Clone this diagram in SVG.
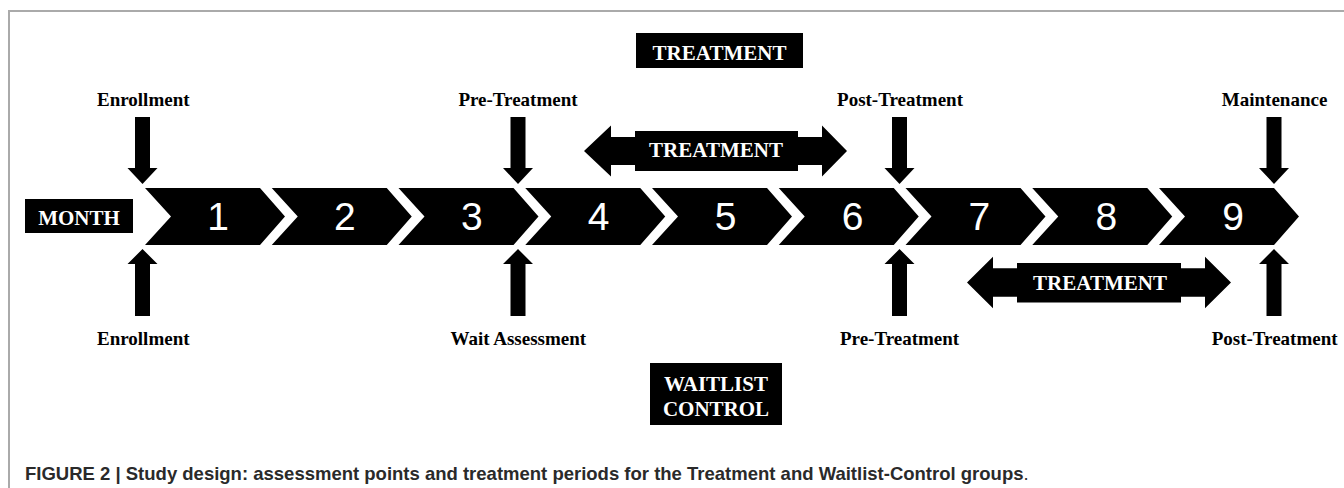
<svg xmlns="http://www.w3.org/2000/svg" width="1344" height="488" viewBox="0 0 1344 488">
<style>
.lbl{font-family:"Liberation Serif","Times New Roman",serif;font-weight:bold;font-size:19px;fill:#000;text-anchor:middle}
.wt{font-family:"Liberation Serif","Times New Roman",serif;font-weight:bold;font-size:21px;fill:#fff;text-anchor:middle}
.num{font-family:"Liberation Sans",Arial,sans-serif;font-size:39px;fill:#fff;text-anchor:middle}
.cap{font-family:"Liberation Sans",Arial,sans-serif;font-size:18.5px;fill:#2a2a2a}
.blk{fill:#000}
</style>
<defs>
<path id="chev" d="M0,188 L115,188 L140,216.5 L115,245 L0,245 L26,216.5 Z"/>
<path id="down" d="M-7.5,117 L7.5,117 L7.5,168 L15,168 L0,184 L-15,168 L-7.5,168 Z"/>
<path id="up" d="M-7.5,316 L7.5,316 L7.5,264 L15,264 L0,249 L-15,264 L-7.5,264 Z"/>
</defs>
<rect width="1344" height="488" fill="#fff"/>
<g id="frame" fill="none" stroke="#aaa" stroke-width="2">
<path d="M9,488 L9,11 L1344,11"/>
</g>
<g id="month">
<rect x="25" y="199" width="108" height="34" class="blk"/>
<text x="79" y="225" class="wt">MONTH</text>
</g>
<g id="timeline">
<g id="m1"><use href="#chev" x="145" class="blk"/><text x="218" y="230" class="num">1</text></g>
<g id="m2"><use href="#chev" x="271.75" class="blk"/><text x="344.9" y="230" class="num">2</text></g>
<g id="m3"><use href="#chev" x="398.5" class="blk"/><text x="471.8" y="230" class="num">3</text></g>
<g id="m4"><use href="#chev" x="525.25" class="blk"/><text x="598.7" y="230" class="num">4</text></g>
<g id="m5"><use href="#chev" x="652" class="blk"/><text x="725.6" y="230" class="num">5</text></g>
<g id="m6"><use href="#chev" x="778.75" class="blk"/><text x="852.5" y="230" class="num">6</text></g>
<g id="m7"><use href="#chev" x="905.5" class="blk"/><text x="979.4" y="230" class="num">7</text></g>
<g id="m8"><use href="#chev" x="1032.25" class="blk"/><text x="1106.3" y="230" class="num">8</text></g>
<g id="m9"><use href="#chev" x="1159" class="blk"/><text x="1233.2" y="230" class="num">9</text></g>
</g>
<g id="treatment-label">
<rect x="636" y="33" width="167" height="35" class="blk"/>
<text x="719.5" y="60" class="wt">TREATMENT</text>
</g>
<g id="waitlist-label">
<rect x="650" y="363" width="132" height="62" class="blk"/>
<text x="716" y="391" class="wt">WAITLIST</text>
<text x="716" y="416" class="wt">CONTROL</text>
</g>
<g id="treatment-period-1">
<path class="blk" d="M584,151 L611,125.5 L611,137 L635,137 L635,131 L798,131 L798,137 L822,137 L822,125.5 L847,151 L822,176.5 L822,165 L798,165 L798,171 L635,171 L635,165 L611,165 L611,176.5 Z"/>
<text x="716" y="157" class="wt">TREATMENT</text>
</g>
<g id="treatment-period-2">
<path class="blk" d="M967,282.5 L993,256.7 L993,268.3 L1017,268.3 L1017,263 L1181,263 L1181,268.3 L1205,268.3 L1205,256.7 L1231,282.5 L1205,308.3 L1205,296.7 L1181,296.7 L1181,302.5 L1017,302.5 L1017,296.7 L993,296.7 L993,308.3 Z"/>
<text x="1100" y="290" class="wt">TREATMENT</text>
</g>
<g id="top-enrollment"><text x="143.3" y="106" class="lbl">Enrollment</text></g>
<g id="top-pretreatment"><text x="518" y="106" class="lbl">Pre-Treatment</text></g>
<g id="top-posttreatment"><text x="900" y="106" class="lbl">Post-Treatment</text></g>
<g id="top-maintenance"><text x="1274.6" y="106" class="lbl">Maintenance</text></g>
<g id="bot-enrollment"><text x="143.3" y="345" class="lbl">Enrollment</text></g>
<g id="bot-wait"><text x="518.3" y="345" class="lbl">Wait Assessment</text></g>
<g id="bot-pretreatment"><text x="899.6" y="345" class="lbl">Pre-Treatment</text></g>
<g id="bot-posttreatment"><text x="1274.6" y="345" class="lbl">Post-Treatment</text></g>
<g id="connectors" class="blk">
<use href="#down" x="142.5"/>
<use href="#down" x="518"/>
<use href="#down" x="899.5"/>
<use href="#down" x="1274"/>
<use href="#up" x="142.5"/>
<use href="#up" x="518"/>
<use href="#up" x="899.5"/>
<use href="#up" x="1274"/>
</g>
<g id="caption">
<text x="25" y="480" class="cap"><tspan font-weight="bold">FIGURE 2 | Study design: assessment points and treatment periods for the Treatment and Waitlist-Control groups</tspan>.</text>
</g>
</svg>
